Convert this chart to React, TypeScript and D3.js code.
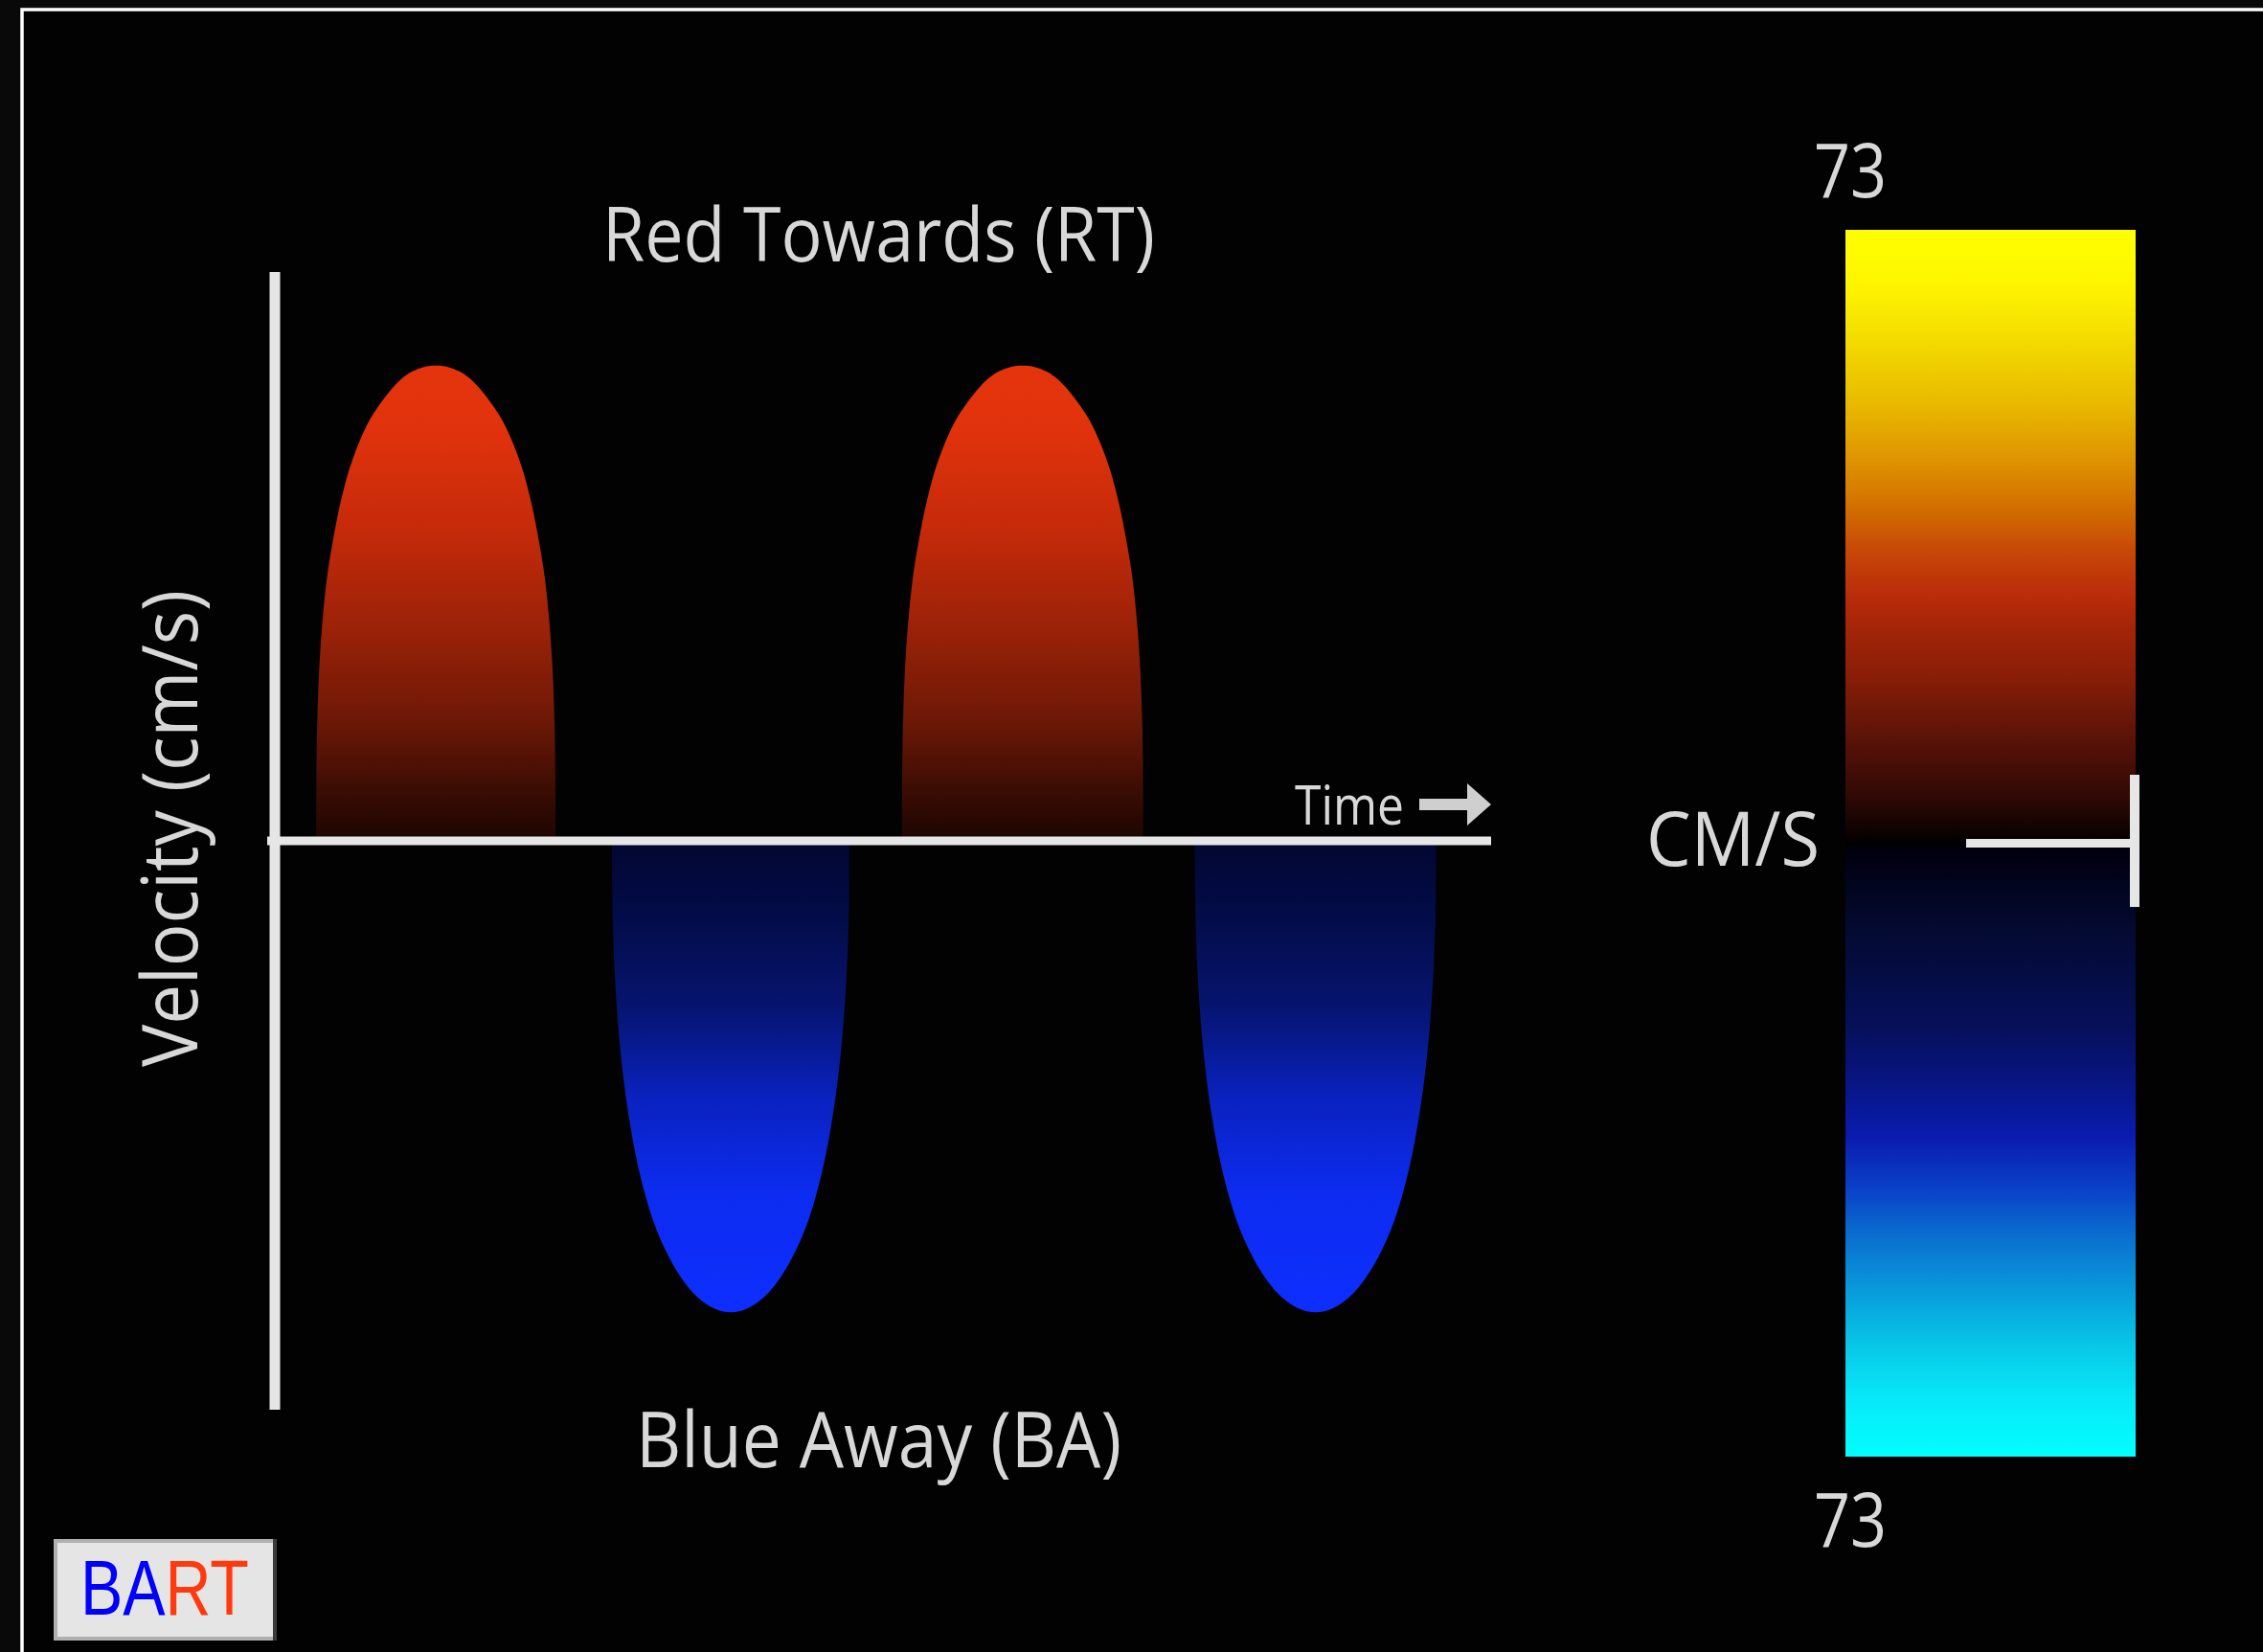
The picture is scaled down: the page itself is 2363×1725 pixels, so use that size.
import React from "react";
import * as d3 from "d3";

// ---- data ----
// time axis in ms, velocity in cm/s
const timeDomain = [0, 2500];
const velocityDomain = [-73, 73];

// lobes: center time (ms), half-width (ms), peak velocity (cm/s)
const lobeCenters = [331, 937, 1537, 2139];
const lobeHalfWidths = [246, 244, 248, 248];
const lobePeaks = [61, -60.5, 61, -60.5];

// lobe outline profiles: fractional offset across the lobe -> fraction of peak
const redProfileOffsets = [-1, -0.998, -0.99, -0.975, -0.95, -0.91, -0.86, -0.8, -0.73, -0.65, -0.55, -0.42, -0.3, -0.2, -0.1, 0, 0.1, 0.2, 0.3, 0.42, 0.55, 0.65, 0.73, 0.8, 0.86, 0.91, 0.95, 0.975, 0.99, 0.998, 1];
const redProfileValues = [0, 0.15, 0.26, 0.36, 0.455, 0.553, 0.632, 0.708, 0.776, 0.833, 0.887, 0.935, 0.969, 0.987, 0.997, 1, 0.997, 0.987, 0.969, 0.935, 0.887, 0.833, 0.776, 0.708, 0.632, 0.553, 0.455, 0.36, 0.26, 0.15, 0];
const blueProfileOffsets = [-1, -0.998, -0.99, -0.975, -0.95, -0.91, -0.86, -0.8, -0.73, -0.65, -0.55, -0.42, -0.28, -0.14, 0, 0.14, 0.28, 0.42, 0.55, 0.65, 0.73, 0.8, 0.86, 0.91, 0.95, 0.975, 0.99, 0.998, 1];
const blueProfileValues = [0, 0.1, 0.2, 0.29, 0.385, 0.49, 0.582, 0.667, 0.742, 0.808, 0.868, 0.926, 0.968, 0.992, 1, 0.992, 0.968, 0.926, 0.868, 0.808, 0.742, 0.667, 0.582, 0.49, 0.385, 0.29, 0.2, 0.1, 0];

// lobe fill colours by fraction of peak
const redFillStops: [number, string][] = [
  [0, "#1c0502"], [0.1, "#3a0c04"], [0.25, "#6c1806"], [0.45, "#9c2208"],
  [0.65, "#c42a0a"], [0.85, "#df320c"], [1, "#e5340c"],
];
const blueFillStops: [number, string][] = [
  [0, "#020630"], [0.2, "#040e50"], [0.35, "#061470"], [0.55, "#0a22c0"],
  [0.75, "#0c2cf0"], [1, "#0e2eff"],
];

// colour bar: velocity -> colour
const colorBarVelocities = [73, 67, 61, 52, 45, 39, 35, 29, 25, 20, 16, 12, 8, 4, 0, -1, -10, -22, -28, -35, -41, -47, -54, -60, -66, -73];
const colorBarColors = ["#ffff00", "#fff600", "#f5e000", "#e8b800", "#dd9000", "#d06800", "#c84808", "#b82a0a", "#a02408", "#8a1e08", "#701808", "#581208", "#400c06", "#240704", "#000000", "#000010", "#040a30", "#06105a", "#081580", "#0a1cb0", "#0a40c8", "#0a70d0", "#08a0dc", "#08c8e8", "#08e8f8", "#00ffff"];
const colorBarLabels = ["73", "73"];

const titleTop = "Red Towards (RT)";
const titleBottom = "Blue Away (BA)";
const yLabel = "Velocity (cm/s)";
const timeLabel = "Time";
const unitLabel = "CM/S";
const badgeParts = ["BA", "RT"];

const W = 2363;
const H = 1725;
const FONT = "'Open Sans', 'Noto Sans', sans-serif";
const TEXT = "#d8d8d8";
const LINE = "#e6e6e6";

export default function App() {
  const x = d3.scaleLinear().domain(timeDomain).range([287, 1557]);
  const y = d3.scaleLinear().domain(velocityDomain).range([1472, 284]);
  const cb = d3.scaleLinear().domain([73, -73]).range([240, 1521]);

  const area = d3
    .area<[number, number]>()
    .x((d) => x(d[0]))
    .y0(() => y(0))
    .y1((d) => y(d[1]))
    .curve(d3.curveCatmullRom.alpha(0.5));

  const lobes = lobeCenters.map((c, i) => {
    const peak = lobePeaks[i];
    const red = peak > 0;
    const offs = red ? redProfileOffsets : blueProfileOffsets;
    const vals = red ? redProfileValues : blueProfileValues;
    const pts: [number, number][] = offs.map((o, j) => [c + o * lobeHalfWidths[i], vals[j] * peak]);
    return { d: area(pts) || "", red, peak };
  });

  const redPeak = d3.max(lobePeaks)!;
  const bluePeak = d3.min(lobePeaks)!;

  const cbX0 = 1927;
  const cbX1 = 2230;
  const cbTop = cb(73);
  const cbBot = cb(-73);

  return (
    <svg
      width={W}
      height={H}
      style={{ position: "absolute", left: 0, top: 0, display: "block" }}
      xmlns="http://www.w3.org/2000/svg"
    >
      <defs>
        <linearGradient id="redFill" gradientUnits="userSpaceOnUse" x1={0} x2={0} y1={y(0)} y2={y(redPeak)}>
          {redFillStops.map(([o, c], i) => (
            <stop key={i} offset={o} stopColor={c} />
          ))}
        </linearGradient>
        <linearGradient id="blueFill" gradientUnits="userSpaceOnUse" x1={0} x2={0} y1={y(0)} y2={y(bluePeak)}>
          {blueFillStops.map(([o, c], i) => (
            <stop key={i} offset={o} stopColor={c} />
          ))}
        </linearGradient>
        <linearGradient id="cbFill" gradientUnits="userSpaceOnUse" x1={0} x2={0} y1={cbTop} y2={cbBot}>
          {colorBarVelocities.map((v, i) => (
            <stop key={i} offset={(cb(v) - cbTop) / (cbBot - cbTop)} stopColor={colorBarColors[i]} />
          ))}
        </linearGradient>
      </defs>

      <rect x={0} y={0} width={W} height={H} fill="#090909" />
      <rect x={23} y={10} width={W + 20} height={H + 20} fill="#020202" stroke="#ffffff" strokeWidth={3.5} />

      {/* lobes */}
      {lobes.map((l, i) => (
        <path key={i} d={l.d} fill={l.red ? "url(#redFill)" : "url(#blueFill)"} />
      ))}

      {/* axes */}
      <line x1={x(0)} x2={x(0)} y1={y(73)} y2={y(-73)} stroke={LINE} strokeWidth={11} />
      <line x1={279} x2={x(2500)} y1={y(0)} y2={y(0)} stroke={LINE} strokeWidth={9} />

      {/* time label + arrow */}
      <text x={1352} y={861} fontFamily={FONT} fontSize={57} fill={TEXT} textLength={114} lengthAdjust="spacingAndGlyphs">
        {timeLabel}
      </text>
      <path d={`M1482,834 L1532,834 L1532,818 L1557,840 L1532,862 L1532,846 L1482,846 Z`} fill="#cfcfcf" />

      {/* titles */}
      <text x={629} y={273} fontFamily={FONT} fontSize={78} fill={TEXT} textLength={577} lengthAdjust="spacingAndGlyphs">
        {titleTop}
      </text>
      <text x={664} y={1532} fontFamily={FONT} fontSize={80} fill={TEXT} textLength={507} lengthAdjust="spacingAndGlyphs">
        {titleBottom}
      </text>
      <text
        transform={`translate(206,1114) rotate(-90)`}
        x={0}
        y={0}
        fontFamily={FONT}
        fontSize={80}
        fill={TEXT}
        textLength={498}
        lengthAdjust="spacingAndGlyphs"
      >
        {yLabel}
      </text>

      {/* colour bar */}
      <rect x={cbX0} y={cbTop} width={cbX1 - cbX0} height={cbBot - cbTop} fill="url(#cbFill)" />
      <line x1={2053} x2={2228} y1={cb(0)} y2={cb(0)} stroke={LINE} strokeWidth={9} />
      <line x1={2229} x2={2229} y1={809} y2={947} stroke={LINE} strokeWidth={10} />
      <text x={1932} y={206} textAnchor="middle" fontFamily={FONT} fontSize={78} fill={TEXT} textLength={76} lengthAdjust="spacingAndGlyphs">
        {colorBarLabels[0]}
      </text>
      <text x={1932} y={1615} textAnchor="middle" fontFamily={FONT} fontSize={78} fill={TEXT} textLength={76} lengthAdjust="spacingAndGlyphs">
        {colorBarLabels[1]}
      </text>
      <text x={1719} y={904} fontFamily={FONT} fontSize={78} fill={TEXT} textLength={181} lengthAdjust="spacingAndGlyphs">
        {unitLabel}
      </text>

      {/* BART badge */}
      <rect x={58} y={1609} width={229} height={102} fill="#e5e5e5" stroke="#b0b0b0" strokeWidth={4} />
      <line x1={287} x2={287} y1={1607} y2={1713} stroke="#3a3a3a" strokeWidth={4} />
      <text
        transform="translate(84,1686) scale(0.81,1)"
        x={0}
        y={0}
        fontFamily="'Liberation Sans', Arial, sans-serif"
        fontSize={82}
      >
        <tspan fill="#0000ff">{badgeParts[0]}</tspan>
        <tspan fill="#ff3a0e">{badgeParts[1]}</tspan>
      </text>
    </svg>
  );
}
